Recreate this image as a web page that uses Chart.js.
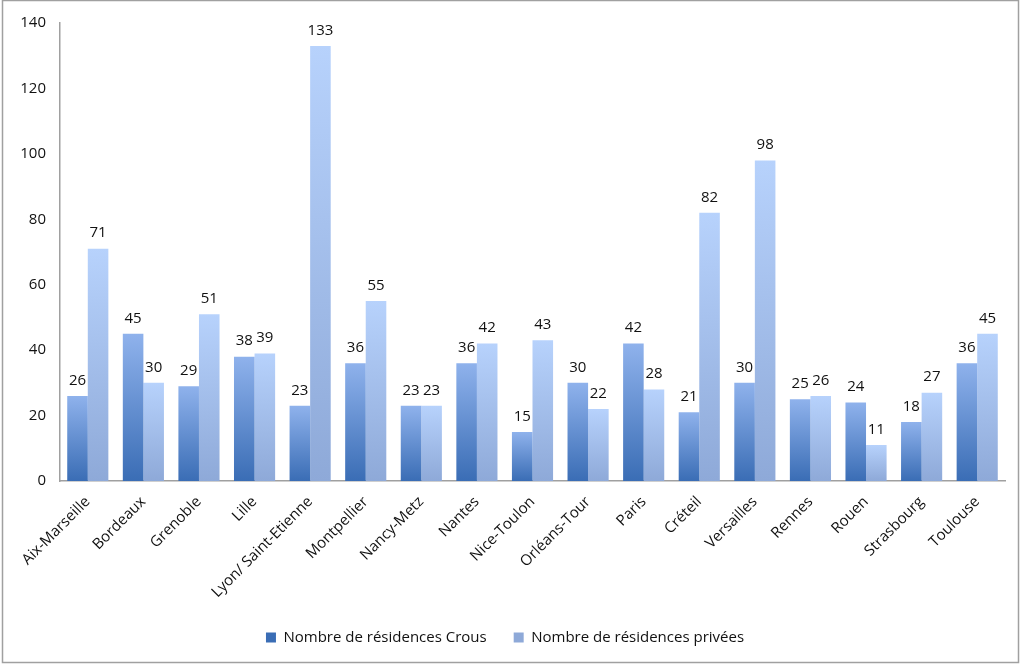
<!DOCTYPE html>
<html><head><meta charset="utf-8">
<script src="https://cdn.jsdelivr.net/npm/chart.js@4/dist/chart.umd.min.js"></script>
<style>html,body{margin:0;padding:0;background:#fff;}#wrap{width:1024px;height:666px;}</style>
</head><body><div id="wrap"><canvas id="c" width="1024" height="666"></canvas></div>
<script>
const categories = ["Aix-Marseille","Bordeaux","Grenoble","Lille","Lyon/ Saint-Etienne","Montpellier","Nancy-Metz","Nantes","Nice-Toulon","Orléans-Tour","Paris","Créteil","Versailles","Rennes","Rouen","Strasbourg","Toulouse"];
const crous = [26,45,29,38,23,36,23,36,15,30,42,21,30,25,24,18,36];
const privees = [71,30,51,39,133,55,23,42,43,22,28,82,98,26,11,27,45];
const seriesNames = ["Nombre de résidences Crous","Nombre de résidences privées"];
const yTicks = [0,20,40,60,80,100,120,140];

const FONT = "Open Sans";
function grad(bottomCol, topCol, fallback){
  return function(ctx){
    const chart = ctx.chart;
    const ys = chart.scales.y;
    if(!ys || ctx.type !== 'data' || ys.top === undefined) return fallback;
    const v = ctx.raw;
    const top = ys.getPixelForValue(v), bot = ys.getPixelForValue(0);
    if(!isFinite(top) || !isFinite(bot) || top === bot) return fallback;
    const g = chart.ctx.createLinearGradient(0, bot, 0, top);
    g.addColorStop(0, bottomCol); g.addColorStop(1, topCol);
    return g;
  };
}
const borderPlugin = {
  id:'frame',
  afterDraw(chart){
    const c = chart.ctx; c.save();
    c.strokeStyle = '#a0a0a0'; c.lineWidth = 1.5;
    c.strokeRect(2.5, 0.5, 1016, 662);
    c.restore();
  }
};
const labelPlugin = {
  id:'vals',
  afterDatasetsDraw(chart){
    const c = chart.ctx; c.save();
    c.font = "15px '"+FONT+"'"; c.fillStyle = '#111'; c.textAlign='center'; c.textBaseline='bottom';
    chart.data.datasets.forEach((ds,i)=>{
      chart.getDatasetMeta(i).data.forEach((el,j)=>{
        c.fillText(String(ds.data[j]), el.x, el.y - 8);
      });
    });
    c.restore();
  }
};
new Chart(document.getElementById('c'), {
  type:'bar',
  data:{
    labels: categories,
    datasets:[
      {label: seriesNames[0], data: crous, backgroundColor: grad('#3a6db5','#8fb2ec','#4a7fcc'), categoryPercentage:0.74, barPercentage:1},
      {label: seriesNames[1], data: privees, backgroundColor: grad('#8ea9d8','#b7d2fc','#a8c4f2'), categoryPercentage:0.74, barPercentage:1}
    ]
  },
  options:{
    responsive:false, animation:false,
    layout:{padding:{left:5,right:19,top:14,bottom:11}},
    plugins:{
      legend:{position:'bottom', labels:{font:{family:FONT,size:15}, color:'#111', boxWidth:10, boxHeight:10, padding:27}},
      tooltip:{enabled:false}
    },
    scales:{
      x:{
        grid:{display:false, drawTicks:false},
        border:{color:'#a0a0a0', width:1.5},
        ticks:{font:{family:FONT,size:15}, color:'#111', minRotation:45, maxRotation:45, padding:12},
        afterFit(s){ s.height = 122; }
      },
      y:{
        min:0, max:140,
        afterBuildTicks(s){ s.ticks = yTicks.map(v=>({value:v})); },
        grid:{display:false, drawTicks:false},
        border:{color:'#a0a0a0', width:1.5},
        ticks:{font:{family:FONT,size:15}, color:'#111', padding:14},
        afterFit(s){ s.width = 55; }
      }
    }
  },
  plugins:[borderPlugin,labelPlugin]
});
</script></body></html>
